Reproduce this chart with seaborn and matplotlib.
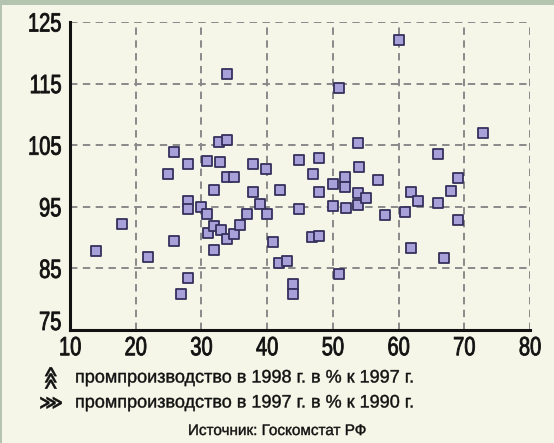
import matplotlib
matplotlib.use("Agg")
import matplotlib.pyplot as plt
import seaborn as sns
import pandas as pd
from matplotlib.patches import Rectangle
from matplotlib.patheffects import AbstractPathEffect
from matplotlib.transforms import Affine2D

# промпроизводство в 1997 г. в % к 1990 г.
x_1997_vs_1990 = [14.0, 17.9, 21.9, 24.9, 25.8, 25.8, 26.9, 28.0, 28.0, 28.0,
                  28.0, 30.0, 30.9, 30.9, 31.0, 31.9, 31.9, 31.9, 32.8, 33.0,
                  32.7, 33.9, 33.9, 33.9, 35.0, 33.9, 35.0, 35.9, 36.9, 37.8,
                  37.8, 38.9, 39.9, 40.0, 40.9, 41.8, 43.0, 42.0, 43.9, 43.9,
                  44.8, 44.8, 46.8, 47.9, 47.0, 47.9, 47.9, 50.0, 50.0, 50.9,
                  50.9, 51.8, 51.8, 52.0, 53.8, 54.0, 53.8, 53.8, 55.0, 56.9,
                  57.9, 60.0, 61.0, 61.9, 61.9, 63.0, 66.0, 66.0, 66.9, 68.0,
                  69.0, 69.0, 72.9]
# промпроизводство в 1998 г. в % к 1997 г.
y_1998_vs_1997 = [87.8, 92.2, 86.9, 100.4, 103.9, 89.4, 80.8, 101.9, 96.0, 94.6,
                  83.4, 94.9, 102.4, 93.8, 90.7, 88.0, 91.9, 97.7, 102.3, 91.2,
                  105.5, 105.8, 116.6, 99.8, 99.8, 89.8, 90.6, 92.0, 93.8, 97.4,
                  102.0, 95.4, 101.1, 93.8, 89.3, 85.9, 86.2, 97.7, 82.5, 80.9,
                  102.6, 94.6, 90.1, 90.3, 100.3, 102.9, 97.4, 98.7, 95.1, 114.3,
                  84.1, 99.8, 98.2, 94.8, 105.4, 101.5, 97.2, 95.3, 96.4, 99.4,
                  93.7, 122.1, 94.2, 97.4, 88.3, 96.0, 103.6, 95.6, 86.7, 97.6,
                  99.7, 92.9, 106.9]

x_ticks = [10, 20, 30, 40, 50, 60, 70, 80]
y_ticks = [75, 85, 95, 105, 115, 125]

legend_y_label = "промпроизводство в 1998 г. в % к 1997 г."
legend_x_label = "промпроизводство в 1997 г. в % к 1990 г."
source_label = "Источник: Госкомстат РФ"

BG = "#f5f6e7"
INK = "#111111"


class Squeeze(AbstractPathEffect):
    """Condense text horizontally (narrow typeface look), optionally thickened."""

    def __init__(self, sx=0.78, anchor="center", stroke=0.0):
        super().__init__()
        self.sx = sx
        self.anchor = anchor
        self.stroke = stroke

    def draw_path(self, renderer, gc, tpath, affine, rgbFace=None):
        ext = tpath.get_extents()
        if self.anchor == "left":
            x0 = ext.x0
        elif self.anchor == "right":
            x0 = ext.x1
        else:
            x0 = 0.5 * (ext.x0 + ext.x1)
        t = Affine2D().translate(-x0, 0).scale(self.sx, 1).translate(x0, 0) + affine
        if self.stroke > 0:
            gc0 = renderer.new_gc()
            gc0.copy_properties(gc)
            gc0.set_linewidth(self.stroke)
            gc0.set_foreground(rgbFace if rgbFace is not None else INK)
            renderer.draw_path(gc0, tpath, t, rgbFace)
            gc0.restore()
        else:
            renderer.draw_path(gc, tpath, t, rgbFace)


sns.set_theme(style="white")
plt.rcParams["font.family"] = ["Liberation Sans", "DejaVu Sans"]

df = pd.DataFrame({"x": x_1997_vs_1990, "y": y_1998_vs_1997})

fig = plt.figure(figsize=(5.54, 4.43), dpi=100, facecolor=BG)
ax = fig.add_axes([70 / 554, 1 - 330 / 443, 460 / 554, 308 / 443])
ax.set_facecolor(BG)

# frame decorations
fig.patches.append(Rectangle((0, 1 - 5 / 443), 1, 5 / 443, transform=fig.transFigure,
                             facecolor="#b3c5ae", edgecolor="none", zorder=0))
fig.patches.append(Rectangle((0, 0), 2 / 554, 1, transform=fig.transFigure,
                             facecolor="#b3c5ae", edgecolor="none", zorder=0))

sns.scatterplot(data=df, x="x", y="y", ax=ax, marker="s", s=55,
                color="#a8a0d8", edgecolor="#35305c", linewidth=1.3, zorder=3,
                clip_on=False)

ax.set_xlim(10, 80)
ax.set_ylim(75, 125)
ax.set_xticks(x_ticks)
ax.set_yticks(y_ticks)
ax.set_xlabel("")
ax.set_ylabel("")

for v in x_ticks[1:]:
    ax.axvline(v, color="#8a8a8a", lw=1.4, ls=(0, (3.8, 2.8)), zorder=1)
for v in y_ticks[1:]:
    ax.axhline(v, color="#8a8a8a", lw=1.4, ls=(0, (3.8, 2.8)), zorder=1)

for s in ["top", "right"]:
    ax.spines[s].set_visible(False)
for s in ["left", "bottom"]:
    ax.spines[s].set_color(INK)
    ax.spines[s].set_linewidth(2.2)

ax.tick_params(axis="x", direction="in", length=5, width=2.2, color=INK,
               pad=4.5, labelsize=19, labelcolor=INK)
ax.tick_params(axis="y", length=0, pad=6, labelsize=19, labelcolor=INK)

for lab in ax.get_xticklabels():
    lab.set_path_effects([Squeeze(0.76, "center", 0.6)])
ylabs = ax.get_yticklabels()
for lab in ylabs:
    lab.set_path_effects([Squeeze(0.76, "right", 0.6)])
ylabs[0].set_verticalalignment("baseline")

# legend-like lines under the chart
c1 = fig.text(51 / 554, 1 - 378 / 443, "⋙", rotation=90, ha="center", va="center",
              fontsize=12, fontweight="bold", family=["DejaVu Sans"], color=INK)
c2 = fig.text(51 / 554, 1 - 403 / 443, "⋙", ha="center", va="center",
              fontsize=12, fontweight="bold", family=["DejaVu Sans"], color=INK)
for c in (c1, c2):
    c.set_path_effects([Squeeze(1.0, "center", 0.4)])
t1 = fig.text(75 / 554, 1 - 378 / 443, legend_y_label, ha="left", va="center",
              fontsize=13, color=INK)
t2 = fig.text(75 / 554, 1 - 403 / 443, legend_x_label, ha="left", va="center",
              fontsize=13, color=INK)
t3 = fig.text(277 / 554, 1 - 431 / 443, source_label, ha="center", va="center",
              fontsize=11, color=INK)
for t in (t1, t2, t3):
    t.set_path_effects([Squeeze(1.0, "left", 0.3)])

fig.savefig("out.png", dpi=100, facecolor=BG)
